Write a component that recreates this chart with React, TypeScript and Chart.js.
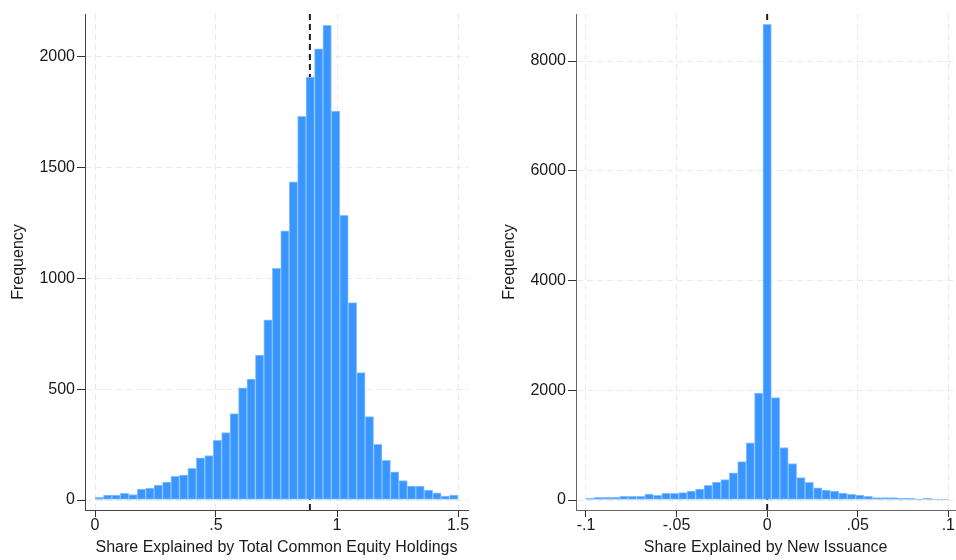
import React, { useEffect, useRef } from "react";
import { Chart, registerables } from "chart.js";

Chart.register(...registerables);

// ---- data ----
const leftBinStart = 0;
const leftBinCount = 43;
const leftBinWidth = 1.5 / leftBinCount;
const leftFreq = [
  12, 22, 22, 30, 25, 49, 54, 67, 81, 107, 112, 143, 190, 201, 269, 304, 390, 506, 546, 654,
  813, 1046, 1215, 1436, 1731, 1908, 2036, 2142, 1755, 1285, 891, 575, 376, 251, 179, 127, 88,
  63, 63, 45, 33, 18, 22,
];
const leftXTicks = [0, 0.5, 1, 1.5];
const leftXLabels = ["0", ".5", "1", "1.5"];
const leftYTicks = [0, 500, 1000, 1500, 2000];
const leftMean = 0.888;
const leftTitle = "Share Explained by Total Common Equity Holdings";

const rightBinStart = -0.1;
const rightBinCount = 43;
const rightBinWidth = 0.2 / rightBinCount;
const rightFreq = [
  37, 49, 49, 49, 67, 67, 67, 110, 85, 122, 122, 134, 165, 201, 268, 329, 372, 494, 701, 1043,
  1951, 8670, 1866, 957, 665, 409, 323, 220, 183, 165, 128, 104, 91, 67, 43, 43, 43, 30, 30, 18,
  30, 18, 18,
];
const rightXTicks = [-0.1, -0.05, 0, 0.05, 0.1];
const rightXLabels = ["-.1", "-.05", "0", ".05", ".1"];
const rightYTicks = [0, 2000, 4000, 6000, 8000];
const rightMean = 0;
const rightTitle = "Share Explained by New Issuance";

const yTitle = "Frequency";

const FONT = "'Liberation Sans', Arial, Helvetica, sans-serif";
const BAR = "#3a96ff";
const BAR_EDGE = "#8cc2ff";

const meanLine = {
  id: "meanLine",
  beforeDatasetsDraw(chart: any, _args: any, opts: any) {
    const { ctx, chartArea } = chart;
    const x = chart.scales.x.getPixelForValue(opts.value);
    ctx.save();
    ctx.setLineDash([6, 4]);
    ctx.lineWidth = 2;
    ctx.strokeStyle = "#1e1e1e";
    ctx.beginPath();
    ctx.moveTo(x, chartArea.top);
    ctx.lineTo(x, chartArea.bottom);
    ctx.stroke();
    ctx.restore();
  },
};

type P = {
  start: number;
  width: number;
  freq: number[];
  xTicks: number[];
  xLabels: string[];
  yTicks: number[];
  xMin: number;
  xMax: number;
  yMin: number;
  yMax: number;
  mean: number;
  xTitle: string;
  yAxisWidth: number;
  padRight: number;
  yTitlePad: number;
  axisColor: string;
};

function makeChart(canvas: HTMLCanvasElement, p: P) {
  const data = p.freq.map((v, i) => ({ x: p.start + p.width * (i + 0.5), y: v }));
  const tickFont = { family: FONT, size: 16, lineHeight: 1 };
  const titleFont = { family: FONT, size: 16, lineHeight: 1.2 };
  return new Chart(canvas, {
    type: "bar",
    data: {
      datasets: [
        {
          data,
          backgroundColor: BAR,
          borderColor: BAR_EDGE,
          borderWidth: 1,
          borderSkipped: false,
          barPercentage: 1,
          categoryPercentage: 1,
          grouped: false,
        } as any,
      ],
    },
    plugins: [meanLine],
    options: {
      animation: false,
      responsive: false,
      devicePixelRatio: 1,
      layout: { padding: { top: 14, right: p.padRight, left: 0, bottom: 0 } },
      plugins: {
        legend: { display: false },
        tooltip: { enabled: false },
        meanLine: { value: p.mean },
      } as any,
      scales: {
        x: {
          type: "linear",
          offset: false,
          min: p.xMin,
          max: p.xMax,
          afterBuildTicks: (s: any) => {
            s.ticks = p.xTicks.map((v) => ({ value: v }));
          },
          afterFit: (s: any) => {
            s.height = 50;
          },
          ticks: {
            autoSkip: false,
            maxRotation: 0,
            padding: 1,
            color: "#1a1a1a",
            font: tickFont,
            callback: (v: any) => {
              const i = p.xTicks.findIndex((t) => Math.abs(t - Number(v)) < 1e-9);
              return i >= 0 ? p.xLabels[i] : "";
            },
          },
          grid: {
            offset: false,
            color: "#e9e9e9",
            lineWidth: 1,
            tickLength: 7,
            tickColor: "#333",
            tickWidth: 1,
          },
          border: { display: true, color: p.axisColor, width: 1, dash: [6, 4] },
          title: {
            display: true,
            text: p.xTitle,
            color: "#1a1a1a",
            font: titleFont,
            padding: { top: 0, bottom: 3 },
          },
        },
        y: {
          type: "linear",
          min: p.yMin,
          max: p.yMax,
          afterBuildTicks: (s: any) => {
            s.ticks = p.yTicks.map((v) => ({ value: v }));
          },
          afterFit: (s: any) => {
            s.width = p.yAxisWidth;
          },
          ticks: {
            autoSkip: false,
            padding: 2,
            color: "#1a1a1a",
            font: tickFont,
            callback: (v: any) => String(v),
          },
          grid: {
            color: "#e9e9e9",
            lineWidth: 1,
            tickLength: 8,
            tickColor: "#333",
            tickWidth: 1,
          },
          border: { display: true, color: p.axisColor, width: 1, dash: [6, 4] },
          title: {
            display: true,
            text: yTitle,
            color: "#1a1a1a",
            font: titleFont,
            padding: { top: p.yTitlePad, bottom: 0 },
          },
        },
      },
    } as any,
  });
}

export default function App() {
  const leftRef = useRef<HTMLCanvasElement>(null);
  const rightRef = useRef<HTMLCanvasElement>(null);

  useEffect(() => {
    const lc = makeChart(leftRef.current!, {
      start: leftBinStart,
      width: leftBinWidth,
      freq: leftFreq,
      xTicks: leftXTicks,
      xLabels: leftXLabels,
      yTicks: leftYTicks,
      xMin: -10 / 242,
      xMax: 1.5 + 10 / 242,
      yMin: -45,
      yMax: 2193,
      mean: leftMean,
      xTitle: leftTitle,
      yAxisWidth: 85,
      padRight: 10,
      yTitlePad: 9,
      axisColor: "#444",
    });
    const rc = makeChart(rightRef.current!, {
      start: rightBinStart,
      width: rightBinWidth,
      freq: rightFreq,
      xTicks: rightXTicks,
      xLabels: rightXLabels,
      yTicks: rightYTicks,
      xMin: -0.1 - 10 / 1815,
      xMax: 0.1 + 7 / 1815,
      yMin: -182,
      yMax: 8857,
      mean: rightMean,
      xTitle: rightTitle,
      yAxisWidth: 98,
      padRight: 0,
      yTitlePad: 22,
      axisColor: "#666",
    });
    return () => {
      lc.destroy();
      rc.destroy();
    };
  }, []);

  return (
    <div
      style={{
        position: "fixed",
        left: 0,
        top: 0,
        width: 956,
        height: 560,
        background: "#fff",
        overflow: "hidden",
      }}
    >
      <canvas
        ref={leftRef}
        width={478}
        height={560}
        style={{ position: "absolute", left: 0, top: 0, width: 478, height: 560 }}
      />
      <canvas
        ref={rightRef}
        width={478}
        height={560}
        style={{ position: "absolute", left: 478, top: 0, width: 478, height: 560 }}
      />
    </div>
  );
}
